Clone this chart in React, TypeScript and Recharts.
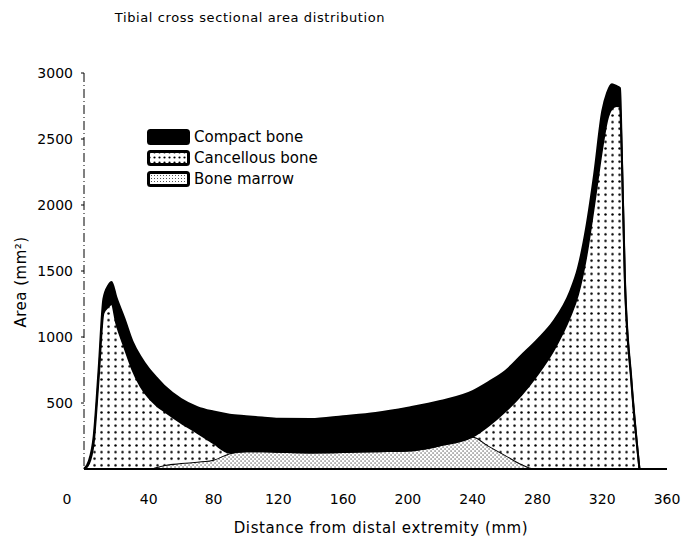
import React from "react";
import { AreaChart, Area, XAxis, YAxis } from "recharts";

// distance from distal extremity (mm)
const distance = [0, 3, 6, 9, 12, 15, 17, 20, 25, 30, 35, 40, 45, 50, 60, 70, 80, 90, 100, 110, 120, 140, 160, 180, 200, 220, 240, 250, 260, 270, 280, 290, 300, 305, 310, 315, 320, 323, 326, 329, 331, 332, 334, 338, 343];

// area (mm^2), stacked bottom to top
const boneMarrow = [0, 0, 0, 0, 0, 0, 0, 0, 0, 0, 0, 0, 15, 30, 45, 55, 70, 120, 135, 135, 130, 125, 128, 135, 140, 180, 245, 175, 107, 38, 0, 0, 0, 0, 0, 0, 0, 0, 0, 0, 0, 0, 0, 0, 0];
const cancellousBone = [0, 40, 200, 680, 1180, 1230, 1250, 1100, 920, 750, 625, 540, 465, 405, 305, 219, 125, 5, 0, 0, 0, 0, 0, 0, 0, 0, 0, 155, 328, 522, 715, 900, 1150, 1320, 1600, 2000, 2430, 2640, 2730, 2750, 2745, 2420, 1420, 660, 0];
const compactBone = [0, 20, 50, 70, 110, 160, 167, 200, 220, 215, 225, 220, 210, 190, 180, 195, 240, 286, 265, 255, 250, 253, 272, 290, 325, 335, 345, 330, 305, 300, 265, 220, 190, 200, 220, 230, 281, 210, 185, 150, 141, 30, 30, 20, 0];

const xTicks = [0, 40, 80, 120, 160, 200, 240, 280, 320, 360];
const yTicks = [500, 1000, 1500, 2000, 2500, 3000];

const data = distance.map((d, i) => ({
  d,
  marrow: boneMarrow[i],
  cancellous: cancellousBone[i],
  compact: compactBone[i],
}));

const font = "'DejaVu Sans', sans-serif";

function XTick({ x, y, payload }: any) {
  const shift = payload.value === 0 ? -17 : 0;
  return (
    <text x={x + shift} y={y} dy={11} textAnchor="middle" fontSize={14} fontFamily={font} fill="#000">
      {payload.value}
    </text>
  );
}

function Swatch({ kind }: { kind: string }) {
  return (
    <svg width={43} height={16} style={{ display: "block" }}>
      <defs>
        <pattern id={"lg-" + kind} width={kind === "c" ? 5 : 3} height={kind === "c" ? 5 : 3} patternUnits="userSpaceOnUse">
          <rect width={5} height={5} fill="#fff" />
          {kind === "c" ? (
            <circle cx={2.5} cy={2.5} r={1.1} fill="#000" />
          ) : (
            <rect x={1} y={1} width={1} height={1} fill="#555" />
          )}
        </pattern>
      </defs>
      <rect
        x={1.5}
        y={1.5}
        width={40}
        height={13}
        rx={2}
        fill={kind === "k" ? "#000" : `url(#lg-${kind})`}
        stroke="#000"
        strokeWidth={3}
      />
    </svg>
  );
}

const legendRows = [
  { kind: "k", label: "Compact bone" },
  { kind: "c", label: "Cancellous bone" },
  { kind: "m", label: "Bone marrow" },
];

export default function App() {
  return (
    <div style={{ position: "absolute", left: 0, top: 0, width: 682, height: 537, background: "#fff", fontFamily: font }}>
      <AreaChart width={682} height={537} data={data} margin={{ top: 73, right: 15, bottom: 28, left: 0 }}>
        <defs>
          <pattern id="cancelDots" width={7} height={6.6} patternUnits="userSpaceOnUse">
            <rect width={7} height={6.6} fill="#fff" />
            <circle cx={3.5} cy={3.3} r={1.25} fill="#000" />
          </pattern>
          <pattern id="marrowDots" width={4} height={4} patternUnits="userSpaceOnUse">
            <rect width={4} height={4} fill="#fff" />
            <rect x={0.5} y={0.5} width={1.1} height={1.1} fill="#222" />
            <rect x={2.5} y={2.5} width={1.1} height={1.1} fill="#222" />
          </pattern>
        </defs>
        <XAxis
          dataKey="d"
          type="number"
          domain={[0, 360]}
          ticks={xTicks}
          tick={<XTick />}
          tickLine={false}
          tickSize={6}
          tickMargin={18}
          height={40}
          axisLine={{ stroke: "#000", strokeWidth: 2 }}
        />
        <YAxis
          type="number"
          domain={[0, 3000]}
          ticks={yTicks}
          width={84}
          tickSize={3}
          tickMargin={8}
          tickLine={{ stroke: "#000" }}
          axisLine={{ stroke: "#000", strokeDasharray: "9 3 1 3" }}
          tick={{ fill: "#000", fontSize: 14, fontFamily: font }}
        />
        <Area
          type="monotone"
          dataKey="marrow"
          stackId="a"
          fill="url(#marrowDots)"
          fillOpacity={1}
          stroke="#000"
          strokeWidth={2}
          isAnimationActive={false}
        />
        <Area
          type="monotone"
          dataKey="cancellous"
          stackId="a"
          fill="url(#cancelDots)"
          fillOpacity={1}
          stroke="#000"
          strokeWidth={2}
          isAnimationActive={false}
        />
        <Area
          type="monotone"
          dataKey="compact"
          stackId="a"
          fill="#000"
          fillOpacity={1}
          stroke="#000"
          strokeWidth={2}
          isAnimationActive={false}
        />
      </AreaChart>

      <div style={{ position: "absolute", left: 0, width: 500, top: 10, textAlign: "center", fontSize: 13, letterSpacing: 0.6 }}>
        Tibial cross sectional area distribution
      </div>

      <div style={{ position: "absolute", left: 147, top: 126 }}>
        {legendRows.map((r) => (
          <div key={r.kind} style={{ display: "flex", alignItems: "center", height: 21 }}>
            <Swatch kind={r.kind} />
            <span style={{ marginLeft: 4, fontSize: 15 }}>{r.label}</span>
          </div>
        ))}
      </div>

      <div
        style={{
          position: "absolute",
          left: 21,
          top: 282,
          transform: "translate(-50%, -50%) rotate(-90deg)",
          whiteSpace: "nowrap",
          fontSize: 15,
          letterSpacing: 0.5,
        }}
      >
        Area (mm²)
      </div>

      <div
        style={{
          position: "absolute",
          left: 381,
          top: 528,
          transform: "translate(-50%, -50%)",
          whiteSpace: "nowrap",
          fontSize: 15,
          letterSpacing: 0.6,
        }}
      >
        Distance from distal extremity (mm)
      </div>
    </div>
  );
}
